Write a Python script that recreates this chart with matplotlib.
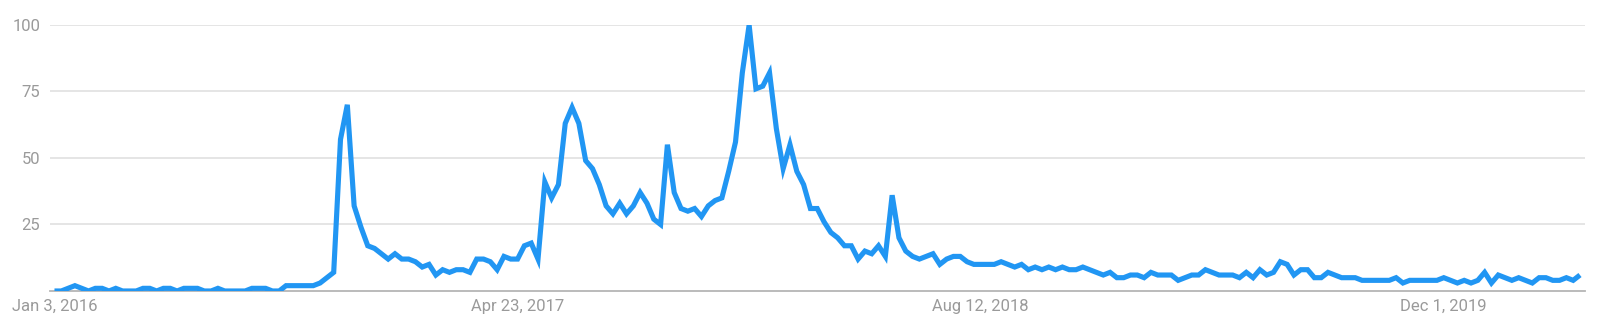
import pandas as pd
import matplotlib
matplotlib.use("Agg")
import matplotlib.pyplot as plt
import matplotlib.dates as mdates

# --- weekly interest values (0-100) ---
start_week = "2016-01-03"
interest = [
    0, 0, 1, 2, 1, 0, 1, 1, 0, 1,
    0, 0, 0, 1, 1, 0, 1, 1, 0, 1,
    1, 1, 0, 0, 1, 0, 0, 0, 0, 1,
    1, 1, 0, 0, 2, 2, 2, 2, 2, 3,
    5, 7, 57, 70, 32, 24, 17, 16, 14, 12,
    14, 12, 12, 11, 9, 10, 6, 8, 7, 8,
    8, 7, 12, 12, 11, 8, 13, 12, 12, 17,
    18, 12, 41, 35, 40, 63, 69, 63, 49, 46,
    40, 32, 29, 33, 29, 32, 37, 33, 27, 25,
    55, 37, 31, 30, 31, 28, 32, 34, 35, 45,
    56, 82, 100, 76, 77, 82, 61, 46, 55, 45,
    40, 31, 31, 26, 22, 20, 17, 17, 12, 15,
    14, 17, 13, 36, 20, 15, 13, 12, 13, 14,
    10, 12, 13, 13, 11, 10, 10, 10, 10, 11,
    10, 9, 10, 8, 9, 8, 9, 8, 9, 8,
    8, 9, 8, 7, 6, 7, 5, 5, 6, 6,
    5, 7, 6, 6, 6, 4, 5, 6, 6, 8,
    7, 6, 6, 6, 5, 7, 5, 8, 6, 7,
    11, 10, 6, 8, 8, 5, 5, 7, 6, 5,
    5, 5, 4, 4, 4, 4, 4, 5, 3, 4,
    4, 4, 4, 4, 5, 4, 3, 4, 3, 4,
    7, 3, 6, 5, 4, 5, 4, 3, 5, 5,
    4, 4, 5, 4, 6,
]
weeks = pd.date_range(start_week, periods=len(interest), freq="7D")

x_tick_dates = ["2016-01-03", "2017-04-23", "2018-08-12", "2019-12-01"]
x_tick_labels = ["Jan 3, 2016", "Apr 23, 2017", "Aug 12, 2018", "Dec 1, 2019"]
y_ticks = [25, 50, 75, 100]

plt.rcParams["font.family"] = ["Roboto", "DejaVu Sans"]

fig = plt.figure(figsize=(16, 3.21), dpi=100)
ax = fig.add_axes([0.03125, 0.0935, 0.9594, 0.8287])

ax.plot(weeks, interest, color="#2196F3", linewidth=3.7,
        solid_joinstyle="miter", solid_capstyle="butt", zorder=3)

ax.set_ylim(0, 100)
ax.set_xlim(weeks[0] - pd.Timedelta(days=4.6), weeks[-1] + pd.Timedelta(days=5.2))

ax.set_yticks(y_ticks)
ax.set_yticklabels([str(v) for v in y_ticks])
ax.set_xticks([mdates.date2num(pd.Timestamp(d)) for d in x_tick_dates])
ax.set_xticklabels(x_tick_labels)

ax.grid(axis="y", color="#e3e3e3", linewidth=1.3)
ax.set_axisbelow(True)
ax.tick_params(axis="both", length=0, labelsize=12, labelcolor="#9a9a9a")
ax.tick_params(axis="y", pad=7)
ax.tick_params(axis="x", pad=6)

for side in ["top", "right", "left"]:
    ax.spines[side].set_visible(False)
ax.spines["bottom"].set_color("#b5b5b5")
ax.spines["bottom"].set_linewidth(1.3)

fig.savefig("out.png", dpi=100, facecolor="white")
